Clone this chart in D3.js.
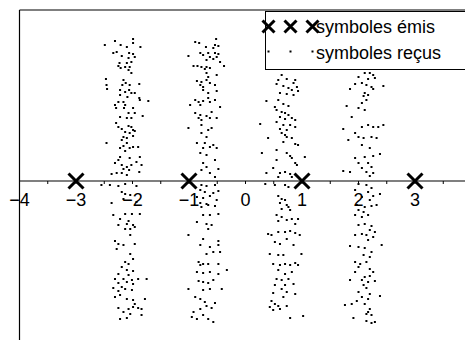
<!DOCTYPE html>
<html>
<head>
<meta charset="utf-8">
<script src="https://cdn.jsdelivr.net/npm/d3@7"></script>
<style>
  body { margin: 0; background: #fff; }
  svg { display: block; font-family: "Liberation Sans", Arial, sans-serif; }
</style>
</head>
<body>
<svg id="chart" width="465" height="347"></svg>
<script>
// symboles émis (4-PAM)
const emis = [-3, -1, 1, 3];

// symboles reçus, one array per cluster, [x, y]
const recusA = [
  [-2.49,1.36],[-2.31,1.40],[-1.99,1.42],[-1.99,1.38],[-2.21,1.36],[-2.10,1.34],[-1.86,1.34],[-2.34,1.28],[-2.28,1.29],[-2.06,1.28],
  [-1.99,1.27],[-2.19,1.25],[-2.07,1.23],[-1.96,1.24],[-2.23,1.18],[-2.10,1.18],[-2.02,1.19],[-2.25,1.15],[-2.21,1.13],[-2.13,1.14],
  [-2.05,1.14],[-2.07,1.11],[-2.02,1.08],[-2.47,1.02],[-2.46,0.96],[-2.45,0.92],[-2.16,1.01],[-2.12,0.98],[-2.18,0.96],[-2.05,0.96],
  [-1.88,0.97],[-2.22,0.91],[-2.13,0.89],[-2.06,0.91],[-2.02,0.88],[-1.96,0.88],[-2.22,0.86],[-2.09,0.84],[-1.88,0.83],[-1.87,0.81],
  [-1.72,0.80],[-2.25,0.79],[-2.16,0.79],[-2.31,0.76],[-2.13,0.76],[-2.29,0.73],[-2.15,0.73],[-1.99,0.73],[-2.07,0.68],[-1.96,0.68],
  [-1.82,0.65],[-2.22,0.64],[-2.10,0.63],[-2.02,0.63],[-2.29,0.58],[-2.25,0.54],[-2.07,0.55],[-2.02,0.54],[-1.99,0.51],[-2.19,0.52],
  [-2.13,0.49],[-2.05,0.48],[-1.96,0.50],[-2.16,0.44],[-2.10,0.43],[-1.99,0.45],[-2.19,0.41],[-2.46,0.38],[-2.10,0.38],[-2.16,0.35],
  [-1.99,0.34],[-2.22,0.33],[-2.05,0.33],[-1.90,0.34],[-2.13,0.30],[-2.22,0.24],[-1.87,0.24],[-2.25,0.21],[-2.05,0.23],[-1.93,0.19],
  [-2.31,0.18],[-2.19,0.16],[-2.10,0.14],[-2.02,0.16],[-1.84,0.16],[-2.16,0.12],[-2.06,0.11],[-1.88,0.09],[-2.37,0.07],[-2.28,0.08],
  [-2.19,0.08],[-2.10,0.06],
  [-2.55,-0.04],[-2.40,-0.04],[-2.25,-0.05],[-2.13,-0.03],[-1.93,-0.05],[-2.19,-0.11],[-2.13,-0.13],[-2.04,-0.14],[-2.16,-0.18],[-2.37,-0.22],
  [-1.93,-0.21],[-2.34,-0.34],[-2.13,-0.33],[-2.01,-0.33],[-1.87,-0.33],[-2.22,-0.38],[-2.07,-0.40],[-2.25,-0.44],[-2.10,-0.43],[-1.99,-0.44],
  [-2.04,-0.48],[-2.13,-0.48],[-1.96,-0.46],[-2.04,-0.54],[-2.31,-0.60],[-2.25,-0.63],[-2.16,-0.64],[-1.96,-0.63],[-2.28,-0.68],[-2.04,-0.73],
  [-1.99,-0.78],[-2.13,-0.81],[-2.07,-0.83],[-2.19,-0.86],[-2.10,-0.89],[-1.99,-0.90],[-2.25,-0.93],[-2.07,-0.94],[-2.31,-0.98],[-2.16,-0.98],
  [-2.01,-0.99],[-1.90,-0.98],[-1.75,-0.98],[-2.25,-1.02],[-2.10,-1.01],[-1.99,-1.03],[-2.34,-1.07],[-2.19,-1.06],[-2.13,-1.08],[-2.25,-1.10],
  [-2.01,-1.09],[-2.22,-1.14],[-2.31,-1.16],[-2.10,-1.18],[-1.99,-1.19],[-1.78,-1.18],[-1.96,-1.23],[-2.25,-1.27],[-2.07,-1.28],[-1.99,-1.26],
  [-1.90,-1.27],[-2.16,-1.31],[-2.04,-1.33],[-1.84,-1.34],[-2.22,-1.38],[-2.10,-1.37],[-1.84,-1.28]
];
const recusB = [
  [-0.52,1.42],[-0.89,1.39],[-0.82,1.38],[-0.54,1.36],[-0.70,1.34],[-0.48,1.35],[-0.57,1.33],[-0.80,1.28],[-0.66,1.28],[-0.54,1.28],
  [-0.48,1.27],[-1.01,1.25],[-0.75,1.26],[-0.63,1.24],[-0.51,1.24],[-0.69,1.21],[-0.57,1.22],[-0.45,1.19],[-0.92,1.15],[-0.85,1.15],
  [-0.78,1.14],[-0.69,1.14],[-0.72,1.12],[-0.38,1.15],[-0.63,1.13],[-0.69,1.08],[-0.66,1.04],[-0.51,1.06],[-0.86,1.00],[-0.78,0.99],
  [-0.69,1.01],[-0.80,0.96],[-0.75,0.94],[-0.63,0.98],[-0.54,0.96],[-0.51,0.90],[-0.75,0.91],[-0.66,0.88],[-0.89,0.81],[-0.83,0.79],
  [-0.75,0.80],[-0.66,0.83],[-0.63,0.79],[-0.54,0.81],[-0.98,0.76],[-0.80,0.76],[-0.45,0.74],[-0.89,0.68],[-0.80,0.66],[-0.69,0.65],
  [-0.60,0.69],[-0.83,0.63],[-0.78,0.61],[-0.63,0.63],[-0.51,0.63],[-1.01,0.53],[-0.78,0.56],[-0.66,0.51],[-0.60,0.53],[-0.78,0.48],
  [-0.69,0.44],[-0.86,0.38],[-0.72,0.38],[-0.57,0.36],[-0.51,0.33],[-0.75,0.33],[-0.63,0.34],[-0.80,0.28],[-0.69,0.26],[-0.54,0.21],
  [-0.75,0.18],[-0.69,0.14],[-0.48,0.12],[-0.78,0.11],[-0.63,0.08],[-0.54,0.04],
  [-0.78,-0.04],[-0.69,-0.05],[-0.54,-0.04],[-0.80,-0.09],[-0.72,-0.11],[-0.57,-0.12],[-0.48,-0.10],[-0.86,-0.16],[-0.75,-0.17],[-0.63,-0.15],
  [-0.51,-0.19],[-0.80,-0.22],[-0.69,-0.23],[-0.78,-0.26],[-0.66,-0.24],[-0.54,-0.25],[-0.75,-0.34],[-0.63,-0.34],[-0.48,-0.33],[-0.86,-0.41],
  [-0.69,-0.43],[-0.60,-0.44],[-0.66,-0.48],[-1.01,-0.54],[-0.75,-0.58],[-0.48,-0.60],[-0.80,-0.64],[-0.63,-0.66],[-0.48,-0.64],[-0.69,-0.73],
  [-0.57,-0.71],[-0.45,-0.71],[-0.83,-0.81],[-0.75,-0.83],[-0.66,-0.83],[-0.80,-0.84],[-0.48,-0.83],[-0.86,-0.91],[-0.75,-0.92],[-0.63,-0.91],
  [-0.48,-0.93],[-0.83,-1.00],[-0.75,-1.01],[-0.66,-1.02],[-0.57,-0.99],[-0.33,-0.89],[-1.01,-1.08],[-0.75,-1.09],[-0.63,-1.08],[-0.42,-1.08],
  [-0.89,-1.16],[-0.80,-1.18],[-0.72,-1.21],[-0.54,-1.22],[-0.69,-1.25],[-0.60,-1.27],[-0.80,-1.28],[-0.92,-1.31],[-0.86,-1.38],[-0.75,-1.34],
  [-0.66,-1.38],[-0.57,-1.41],[-0.95,-1.36]
];
const recusC = [
  [0.64,1.06],[0.58,1.01],[0.73,1.02],[0.88,1.01],[0.85,0.98],[0.91,0.94],[0.67,0.95],[0.55,0.97],[0.76,0.93],[0.82,0.91],
  [0.93,0.90],[0.61,0.88],[0.73,0.87],[0.85,0.86],[0.58,0.81],[0.37,0.80],[0.67,0.77],[0.52,0.74],[0.76,0.75],[0.55,0.71],
  [0.64,0.69],[0.70,0.68],[0.76,0.66],[0.61,0.64],[0.70,0.62],[0.82,0.63],[0.88,0.61],[0.55,0.59],[0.26,0.57],[0.67,0.56],
  [0.79,0.56],[0.61,0.52],[0.73,0.51],[0.88,0.54],[0.64,0.48],[0.70,0.46],[0.40,0.43],[0.73,0.44],[0.82,0.43],[0.88,0.37],
  [0.93,0.36],[0.67,0.39],[0.55,0.31],[0.29,0.28],[0.73,0.28],[0.79,0.25],[0.82,0.23],[1.05,0.24],[0.88,0.18],[0.91,0.16],
  [0.55,0.21],[0.49,0.13],[0.37,0.08],[0.61,0.08],[0.70,0.09],[0.79,0.07],[0.58,0.04],[0.82,0.04],
  [0.35,-0.03],[0.52,-0.04],[0.70,-0.04],[0.76,-0.06],[0.58,-0.15],[0.64,-0.18],[0.70,-0.19],[0.61,-0.22],[0.73,-0.24],[0.76,-0.26],
  [0.64,-0.28],[0.79,-0.29],[0.55,-0.34],[0.64,-0.36],[0.82,-0.38],[0.58,-0.40],[0.73,-0.39],[0.93,-0.38],[0.88,-0.43],[0.40,-0.53],
  [0.46,-0.54],[0.58,-0.51],[0.70,-0.51],[0.79,-0.50],[0.88,-0.52],[0.96,-0.54],[0.52,-0.61],[0.61,-0.63],[0.73,-0.58],[0.85,-0.64],
  [0.43,-0.73],[0.58,-0.74],[0.67,-0.74],[0.99,-0.73],[0.49,-0.83],[0.61,-0.84],[0.70,-0.83],[0.79,-0.84],[0.88,-0.82],[0.93,-0.84],
  [0.58,-0.89],[0.70,-0.93],[0.82,-0.91],[0.55,-0.98],[0.64,-0.99],[0.76,-0.98],[0.52,-1.04],[0.70,-1.04],[0.85,-1.03],[0.64,-1.08],
  [0.73,-1.11],[0.49,-1.12],[0.88,-1.13],[0.67,-1.16],[0.46,-1.20],[0.52,-1.23],[0.58,-1.25],[0.73,-1.25],[0.43,-1.26],[0.49,-1.29],
  [0.61,-1.28],[0.79,-1.37],[1.02,-1.35]
];
const recusD = [
  [2.11,1.08],[2.20,1.08],[2.26,1.06],[2.00,1.04],[2.17,1.02],[2.29,1.03],[1.94,0.97],[2.06,0.98],[2.14,0.96],[2.23,0.94],
  [1.85,0.92],[2.26,0.92],[2.44,0.95],[2.11,0.88],[2.09,0.85],[2.17,0.86],[2.14,0.81],[2.06,0.78],[1.79,0.75],[2.00,0.73],
  [2.11,0.71],[1.88,0.64],[2.06,0.54],[2.17,0.56],[2.26,0.54],[2.35,0.54],[2.44,0.56],[1.73,0.52],[1.94,0.48],[2.00,0.44],
  [2.09,0.43],[2.23,0.44],[2.32,0.43],[1.82,0.41],[2.06,0.36],[2.20,0.33],[1.94,0.23],[2.11,0.24],[2.26,0.25],[2.38,0.27],
  [2.00,0.18],[2.17,0.18],[2.23,0.14],[2.06,0.13],[1.73,0.10],[1.85,0.09],[2.14,0.09],[2.26,0.08],[2.20,0.05],
  [2.00,-0.03],[2.14,-0.04],[2.23,-0.07],[1.94,-0.09],[2.17,-0.11],[2.26,-0.15],[2.38,-0.13],[2.06,-0.16],[2.20,-0.19],[2.32,-0.24],
  [1.97,-0.24],[2.11,-0.26],[2.23,-0.25],[2.00,-0.29],[2.09,-0.31],[1.94,-0.34],[2.06,-0.36],[2.17,-0.34],[2.00,-0.44],[2.11,-0.43],
  [2.23,-0.45],[2.20,-0.49],[2.29,-0.51],[1.94,-0.54],[2.06,-0.53],[2.14,-0.54],[2.26,-0.56],[2.17,-0.59],[2.41,-0.64],[1.85,-0.65],
  [2.00,-0.66],[2.11,-0.67],[2.23,-0.71],[2.09,-0.74],[2.20,-0.76],[1.94,-0.81],[2.03,-0.83],[2.14,-0.81],[2.00,-0.86],[2.20,-0.88],
  [1.94,-0.91],[2.26,-0.91],[2.11,-0.96],[2.20,-0.95],[2.06,-0.99],[2.17,-1.01],[2.29,-1.00],[1.85,-0.99],[2.09,-1.04],[2.14,-1.07],
  [2.00,-1.11],[2.20,-1.13],[2.06,-1.16],[2.38,-1.15],[2.17,-1.18],[1.97,-1.20],[2.11,-1.23],[1.76,-1.24],[1.88,-1.23],[2.20,-1.28],
  [2.17,-1.31],[2.14,-1.33],[2.23,-1.34],[1.91,-1.37],[2.14,-1.40],[2.23,-1.42],[2.29,-1.41]
];

const xTicks = [-4, -3, -2, -1, 0, 1, 2, 3];
const xMinorTicks = [-3.5, -2.5, -1.5, -0.5, 0.5, 1.5, 2.5, 3.5];
const legendLabels = ['symboles émis', 'symboles reçus'];

const width = 465, height = 347;
const svg = d3.select('#chart');

const x = d3.scaleLinear().domain([-4, 4]).range([19.5, 471.5]);
const y = d3.scaleLinear().domain([-1.59, 1.71]).range([340, 10]);

const recus = recusA.concat(recusB, recusC, recusD);

// received points
svg.append('g')
  .selectAll('rect')
  .data(recus)
  .enter().append('rect')
  .attr('x', d => x(d[0]) - 1)
  .attr('y', d => y(d[1]) - 1)
  .attr('width', 2)
  .attr('height', 2)
  .attr('fill', '#000');

// frame top + y axis
svg.append('line')
  .attr('x1', x(-4)).attr('x2', width)
  .attr('y1', y.range()[1]).attr('y2', y.range()[1])
  .attr('stroke', '#000').attr('stroke-width', 1.2);
svg.append('line')
  .attr('x1', x(-4)).attr('x2', x(-4))
  .attr('y1', y.range()[1]).attr('y2', y.range()[0])
  .attr('stroke', '#000').attr('stroke-width', 1.2);

// x axis through y = 0
const xAxis = svg.append('g').attr('transform', `translate(0,${y(0)})`);
xAxis.append('line')
  .attr('x1', x(-4)).attr('x2', width)
  .attr('stroke', '#000').attr('stroke-width', 1.2);
xAxis.selectAll('.tick')
  .data(xTicks.concat(xMinorTicks))
  .enter().append('line')
  .attr('x1', d => x(d)).attr('x2', d => x(d))
  .attr('y1', 0).attr('y2', 3)
  .attr('stroke', '#000');
xAxis.selectAll('.lbl')
  .data(xTicks)
  .enter().append('text')
  .attr('x', d => x(d))
  .attr('y', 25)
  .attr('text-anchor', 'middle')
  .attr('font-size', 18)
  .attr('fill', '#000')
  .text(d => d < 0 ? '\u2212' + Math.abs(d) : d);

// emitted symbols
function cross(sel, s, sw) {
  sel.append('path')
    .attr('d', `M${-s},${-s}L${s},${s}M${-s},${s}L${s},${-s}`)
    .attr('stroke', '#000')
    .attr('stroke-width', sw)
    .attr('fill', 'none');
}
svg.append('g')
  .selectAll('g')
  .data(emis)
  .enter().append('g')
  .attr('transform', d => `translate(${x(d)},${y(0)})`)
  .each(function() { cross(d3.select(this), 7.5, 3); });

// legend
const lg = svg.append('g');
lg.append('rect')
  .attr('x', 265.5).attr('y', 11.5)
  .attr('width', 210).attr('height', 58)
  .attr('fill', '#fff').attr('stroke', '#000');
const markerX = [268.5, 290.5, 312.5];
markerX.forEach(mx => {
  const g = lg.append('g').attr('transform', `translate(${mx},26.5)`);
  cross(g, 6, 3);
  lg.append('rect')
    .attr('x', mx - 1).attr('y', 50.5).attr('width', 2).attr('height', 2)
    .attr('fill', '#000');
});
lg.selectAll('text')
  .data(legendLabels)
  .enter().append('text')
  .attr('x', 316)
  .attr('y', (d, i) => 33 + i * 26)
  .attr('font-size', 18)
  .attr('fill', '#000')
  .text(d => d);
</script>
</body>
</html>
